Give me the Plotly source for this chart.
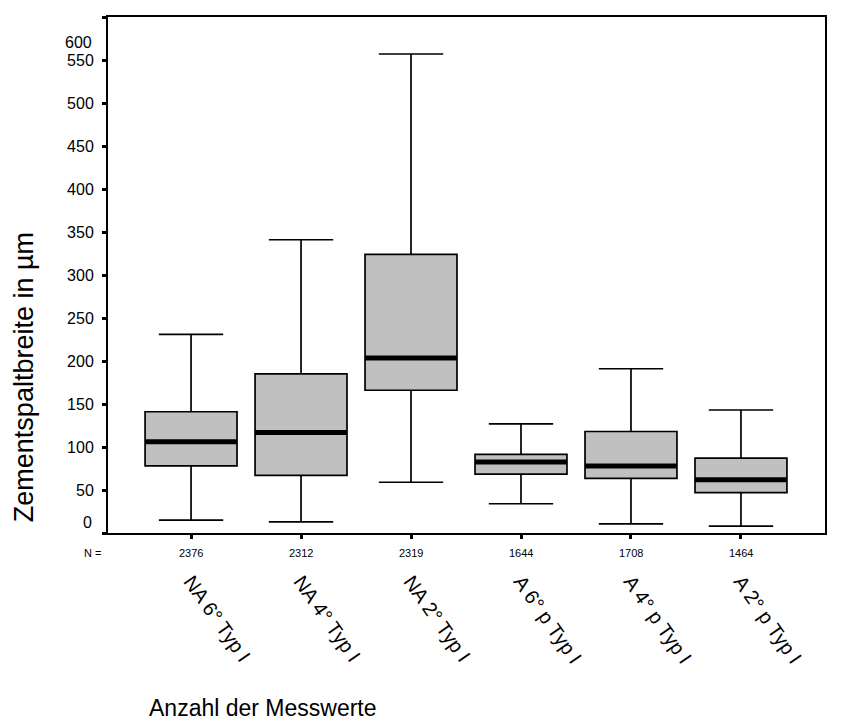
import plotly.graph_objects as go

# ---- data ----
categories = ["NA 6° Typ I", "NA 4° Typ I", "NA 2° Typ I",
              "A 6° p Typ I", "A 4° p Typ I", "A 2° p Typ I"]
n_values = [2376, 2312, 2319, 1644, 1708, 1464]
lower_whisker = [15, 13, 59, 34, 10.5, 8]
q1_values = [78, 67, 166, 68.5, 63.5, 47]
median_values = [106, 117, 203.5, 82.5, 78, 62]
q3_values = [141, 185, 324, 91.5, 118, 87]
upper_whisker = [231, 341, 557, 127, 191, 143]
y_ticks = [0, 50, 100, 150, 200, 250, 300, 350, 400, 450, 500, 550, 600]

FONT = "Liberation Sans, Arial, sans-serif"
pos = list(range(len(categories)))
box_w = 0.836

fig = go.Figure()
fig.add_trace(go.Box(
    x=pos, q1=q1_values, median=median_values, q3=q3_values,
    lowerfence=lower_whisker, upperfence=upper_whisker,
    width=box_w, whiskerwidth=0.7,
    fillcolor="#c0c0c0", line=dict(color="black", width=1.7),
    boxpoints=False, hoverinfo="skip", showlegend=False,
))

# thick median bars
mx, my = [], []
for p, m in zip(pos, median_values):
    mx += [p - box_w / 2, p + box_w / 2, None]
    my += [m, m, None]
fig.add_trace(go.Scatter(x=mx, y=my, mode="lines",
                         line=dict(color="black", width=5),
                         hoverinfo="skip", showlegend=False))

annotations = []
for p, n in zip(pos, n_values):
    annotations.append(dict(x=p, xref="x", y=0, yref="paper", yanchor="middle",
                            yshift=-20, text=str(n), showarrow=False,
                            font=dict(size=11, family=FONT, color="black")))
annotations.append(dict(x=0, xref="paper", xanchor="center", xshift=-16,
                        y=0, yref="paper", yanchor="middle", yshift=-20,
                        text="N =", showarrow=False,
                        font=dict(size=11, family=FONT, color="black")))
# end labels of the y axis (squeezed inward as in the reference)
annotations.append(dict(x=0, xref="paper", xanchor="right", xshift=-14,
                        y=y_ticks[0], yref="y", yanchor="middle", yshift=11,
                        text=str(y_ticks[0]), showarrow=False,
                        font=dict(size=16, family=FONT, color="black")))
annotations.append(dict(x=0, xref="paper", xanchor="right", xshift=-14,
                        y=y_ticks[-1], yref="y", yanchor="middle", yshift=-25,
                        text=str(y_ticks[-1]), showarrow=False,
                        font=dict(size=16, family=FONT, color="black")))
annotations.append(dict(x=0, xref="paper", xanchor="left", xshift=39,
                        y=0, yref="paper", yanchor="middle", yshift=-175,
                        text="Anzahl der Messwerte", showarrow=False,
                        font=dict(size=23, family=FONT, color="black")))
annotations.append(dict(x=0, xref="paper", xanchor="center", xshift=-84,
                        y=0.302, yref="paper", yanchor="middle",
                        text="Zementspaltbreite in µm", textangle=-90,
                        showarrow=False,
                        font=dict(size=27, family=FONT, color="black")))

ticktext = ["" if v in (y_ticks[0], y_ticks[-1]) else str(v) for v in y_ticks]

# page body has an 8px default margin -> figure size reduced accordingly
fig.update_layout(
    width=833, height=718,
    margin=dict(l=100, r=16, t=9, b=193),
    paper_bgcolor="white", plot_bgcolor="white",
    font=dict(family=FONT, color="black"),
    showlegend=False,
    annotations=annotations,
    xaxis=dict(range=[-0.755, 5.764], tickvals=pos, ticktext=categories,
               tickangle=55, ticks="outside", ticklen=4, tickwidth=3,
               tickcolor="black", showline=True, linecolor="black",
               linewidth=2, mirror=True, showgrid=False, zeroline=False,
               ticklabelstandoff=23, automargin=False,
               tickfont=dict(size=20, family=FONT, color="black")),
    yaxis=dict(range=[0, 600], tickvals=y_ticks, ticktext=ticktext,
               ticks="outside", ticklen=4, tickwidth=3, tickcolor="black",
               showline=True, linecolor="black", linewidth=2, mirror=True,
               showgrid=False, zeroline=False, ticklabelstandoff=5,
               automargin=False,
               tickfont=dict(size=16, family=FONT, color="black")),
)

fig.write_html("out.html")
